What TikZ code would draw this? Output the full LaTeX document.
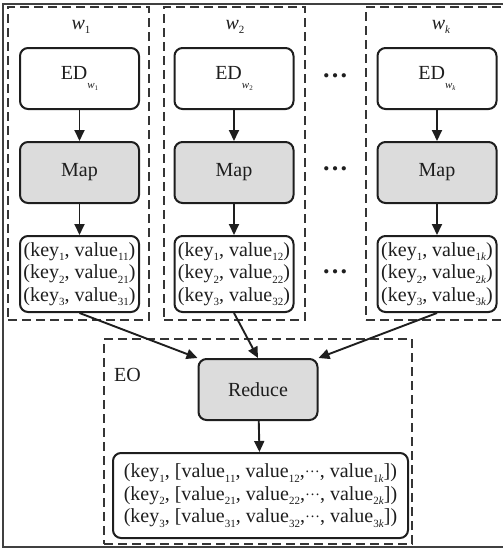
\documentclass[tikz,border=0pt]{standalone}
\usepackage{fontspec}
\setmainfont{Liberation Serif}
\usetikzlibrary{arrows.meta}
\newcommand\lo[1]{\raisebox{-0.5ex}{\fontsize{11}{11}\selectfont #1}}
\newcommand\wsub[1]{\raisebox{-1.0ex}{\fontsize{11}{11}\selectfont\textit{w}\raisebox{-0.35ex}{\fontsize{7}{7}\selectfont #1}}}
\newcommand\mdots{\raisebox{0.25em}{\fontsize{15}{15}\selectfont …}}
\definecolor{ink}{HTML}{1E1E1E}
\definecolor{boxgray}{HTML}{DCDCDC}
\tikzset{
  box/.style={draw=ink, line width=2pt, rounded corners=8pt, minimum width=119pt, minimum height=61pt,
    align=center, inner sep=1pt, text=ink, font=\fontsize{20}{22.5}\selectfont},
  gbox/.style={box, fill=boxgray},
  dbox/.style={draw=ink!90, line width=1.3pt, dash pattern=on 9pt off 5pt, inner sep=0pt},
  arr/.style={draw=ink, line width=1.9pt, -{Triangle[length=11pt,width=10pt]}},
  lbl/.style={font=\fontsize{20}{22}\selectfont, inner sep=0pt, text=ink},
  dotlbl/.style={font=\fontsize{26}{26}\selectfont\bfseries, inner sep=0pt, text=ink},
  frame/.style={draw=ink!85, line width=2.4pt}
}
\begin{document}
\begin{tikzpicture}[x=1pt,y=-1pt]
\useasboundingbox (0,0) rectangle (503,549);
% outer frame (cropped on the right)
\draw[frame] (510,4) -- (3,4) -- (3,547) -- (510,547);
% worker groups
\node[dbox, minimum width=141pt, minimum height=313pt] (W1) at (78.5,163.5) {};
\node[dbox, minimum width=141pt, minimum height=313pt] (W2) at (234.5,163.5) {};
\node[dbox, minimum width=142pt, minimum height=313pt] (Wk) at (437,163.5) {};
\node[lbl] (lw1) at (81,27) {\textit{w}\lo{1}};
\node[lbl] (lw2) at (235,27) {\textit{w}\lo{2}};
\node[lbl] (lwk) at (441,27) {\textit{w}\lo{\textit{k}}};
% EO group
\node[dbox, minimum width=308pt, minimum height=205pt] (EO) at (258,441.5) {};
\node[lbl, anchor=west] (leo) at (114,375) {EO};
% ED boxes
\node[box] (ed1) at (79.5,78.5) {ED\wsub{1}};
\node[box] (ed2) at (234,78.5) {ED\wsub{2}};
\node[box] (edk) at (437,78.5) {ED\wsub{\textit{k}}};
% Map boxes
\node[gbox] (map1) at (79.5,172.5) {Map};
\node[gbox] (map2) at (234,172.5) {Map};
\node[gbox] (mapk) at (437,172.5) {Map};
% key-value boxes
\node[box, minimum height=76pt] (kv1) at (79.5,274) {(key\lo{1}, value\lo{11})\\(key\lo{2}, value\lo{21})\\(key\lo{3}, value\lo{31})};
\node[box, minimum height=76pt] (kv2) at (234,274) {(key\lo{1}, value\lo{12})\\(key\lo{2}, value\lo{22})\\(key\lo{3}, value\lo{32})};
\node[box, minimum height=76pt] (kvk) at (437,274) {(key\lo{1}, value\lo{1\textit{k}})\\(key\lo{2}, value\lo{2\textit{k}})\\(key\lo{3}, value\lo{3\textit{k}})};
% dots
\node[dotlbl] (d1) at (335,76) {…};
\node[dotlbl] (d2) at (335,169) {…};
\node[dotlbl] (d3) at (335,272) {…};
% Reduce and result
\node[gbox] (red) at (258,389.5) {Reduce};
\node[box, minimum width=295pt, minimum height=85pt] (res) at (260.5,495.5)
  {(key\lo{1}, [value\lo{11}, value\lo{12},\mdots, value\lo{1\textit{k}}])\\
   (key\lo{2}, [value\lo{21}, value\lo{22},\mdots, value\lo{2\textit{k}}])\\
   (key\lo{3}, [value\lo{31}, value\lo{32},\mdots, value\lo{3\textit{k}}])};
% connectors
\draw[arr] (ed1) -- (map1);
\draw[arr] (ed2) -- (map2);
\draw[arr] (edk) -- (mapk);
\draw[arr] (map1) -- (kv1);
\draw[arr] (map2) -- (kv2);
\draw[arr] (mapk) -- (kvk);
\draw[arr] (kv1.south) -- (red.north west);
\draw[arr] (kv2.south) -- (red.north);
\draw[arr] (kvk.south) -- (red.north east);
\draw[arr] (red) -- (res);
\end{tikzpicture}
\end{document}
